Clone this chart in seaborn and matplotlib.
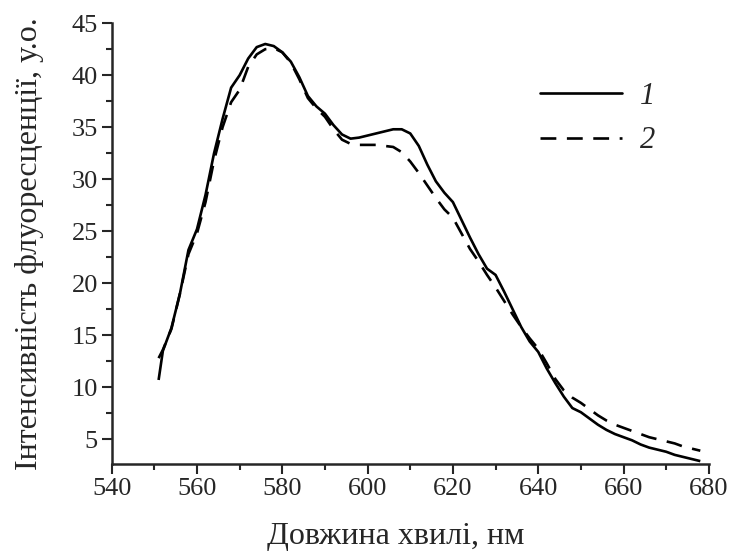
import numpy as np
import pandas as pd
import seaborn as sns
import matplotlib
matplotlib.use("Agg")
import matplotlib.pyplot as plt
from matplotlib.ticker import MultipleLocator
from matplotlib.lines import Line2D

# wavelength, nm
wavelength = [551, 552, 554, 556, 558, 560, 562, 564, 566, 568, 570, 572, 574, 576, 578,
              580, 582, 584, 586, 588, 590, 592, 594, 596, 598, 600, 602, 604, 606, 608,
              610, 612, 614, 616, 618, 620, 622, 624, 626, 628, 630, 632, 634, 636, 638,
              640, 642, 644, 646, 648, 650, 652, 654, 656, 658, 660, 662, 664, 666, 668,
              670, 672, 674, 676, 678]

# curve 1 (solid)
curve1 = [10.7, 13.5, 15.7, 19.0, 23.2, 25.2, 28.5, 32.5, 35.8, 38.8, 40.0, 41.6, 42.7, 43.0, 42.8,
          42.2, 41.3, 39.8, 38.0, 37.0, 36.3, 35.2, 34.3, 33.9, 34.0, 34.2, 34.4, 34.6, 34.8, 34.8,
          34.4, 33.2, 31.4, 29.8, 28.7, 27.8, 26.1, 24.4, 22.8, 21.4, 20.8, 19.2, 17.5, 15.8, 14.4,
          13.4, 11.8, 10.4, 9.1, 8.0, 7.6, 7.0, 6.4, 5.9, 5.5, 5.2, 4.9, 4.5, 4.2, 4.0,
          3.8, 3.5, 3.3, 3.1, 2.9]

# curve 2 (dashed)
curve2 = [12.8, 13.6, 15.6, 19.0, 22.8, 24.8, 27.8, 31.8, 35.0, 37.4, 38.6, 40.8, 42.0, 42.5, 42.6,
          42.2, 41.2, 39.6, 37.8, 36.8, 36.0, 34.8, 33.8, 33.4, 33.3, 33.3, 33.3, 33.2, 33.1, 32.6,
          31.7, 30.6, 29.4, 28.2, 27.1, 26.3, 24.8, 23.3, 22.1, 20.8, 19.6, 18.3, 17.0, 15.8, 14.7,
          13.7, 12.3, 10.8, 9.7, 9.0, 8.5, 7.9, 7.3, 6.8, 6.4, 6.1, 5.8, 5.5, 5.2, 5.0,
          4.8, 4.6, 4.3, 4.1, 3.9]

labels = ["1", "2"]

df = pd.DataFrame({"nm": wavelength * 2,
                   "I": curve1 + curve2,
                   "curve": [labels[0]] * len(wavelength) + [labels[1]] * len(wavelength)})

sns.set_style("ticks")
plt.rcParams["font.family"] = ["Liberation Serif", "DejaVu Serif"]

fig = plt.figure(figsize=(7.3, 5.52), dpi=100)
ax = fig.add_axes([0.153, 0.159, 0.818, 0.799])

sns.lineplot(data=df, x="nm", y="I", hue="curve", style="curve",
             palette=["black", "black"], dashes=[(1, 0), (6, 4)],
             linewidth=1.9, ax=ax, legend=False)

ax.set_xlim(540, 680)
ax.set_ylim(2.6, 45)
ax.xaxis.set_major_locator(MultipleLocator(20))
ax.xaxis.set_minor_locator(MultipleLocator(10))
ax.yaxis.set_minor_locator(MultipleLocator(2.5))
ax.set_yticks([5, 10, 15, 20, 25, 30, 35, 40, 45])

for s in ["top", "right"]:
    ax.spines[s].set_visible(False)
for s in ["left", "bottom"]:
    ax.spines[s].set_linewidth(1.8)

ax.tick_params(which="major", direction="out", length=7, width=1.5, labelsize=19, pad=3)
ax.tick_params(which="minor", direction="out", length=4, width=1.5)

ax.set_xlabel("Довжина хвилі, нм", fontsize=23, labelpad=16)
ax.set_ylabel("Інтенсивність флуоресценції, у.о.", fontsize=23, labelpad=20)
# x label sits a little left of the axis centre in the original
ax.xaxis.label.set_x(0.476)

# legend
handles = [Line2D([], [], color="black", lw=1.9),
           Line2D([], [], color="black", lw=1.9, dashes=(6, 4))]
ax.legend(handles, labels, loc="upper left", bbox_to_anchor=(0.671, 0.93),
          frameon=False, handlelength=2.68, handletextpad=0.6, labelspacing=0.52,
          prop={"style": "italic", "size": 22})

fig.savefig("out.png", dpi=100)
